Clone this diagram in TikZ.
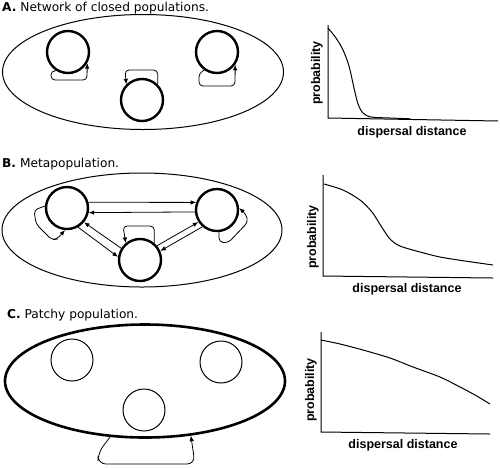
\documentclass[tikz,border=0pt]{standalone}
\usepackage{fontspec}
\setmainfont{DejaVu Sans}
\newfontfamily\axefont{Liberation Sans}
\usetikzlibrary{shapes.geometric,arrows.meta}

\begin{document}
\begin{tikzpicture}[x=1pt,y=-1pt]
    % Styles (MODIFIABLES)
    \tikzstyle{fleche}=[->,>={Latex[length=5.5pt,width=4.5pt]},line width=0.8pt]
    \tikzstyle{boucle}=[fleche,rounded corners=4pt]
    \tikzstyle{population}=[circle,draw,line width=2.4pt,minimum size=42pt,inner sep=0pt]
    \tikzstyle{parcelle}=[circle,draw,line width=1pt,minimum size=42pt,inner sep=0pt]
    \tikzstyle{milieu}=[ellipse,draw,line width=1pt,minimum width=281pt,minimum height=115pt,inner sep=0pt]
    \tikzstyle{titre}=[anchor=base west,inner sep=0pt,font=\fontsize{12.2pt}{14pt}\selectfont]
    \tikzstyle{axe}=[line width=1pt]
    \tikzstyle{courbe}=[line width=1pt]
    \tikzstyle{etiquette}=[inner sep=0pt,font=\axefont\bfseries\fontsize{12.5pt}{14pt}\selectfont]
    \useasboundingbox (0,0) rectangle (500,467);
    % A. Reseau de populations fermees
    \node[titre] (titreA) at (2,11) {\textbf{A.} Network of closed populations.};
    \node[milieu] (milieuA) at (143,72) {};
    \node[population] (popA1) at (68,52) {};
    \node[population] (popA2) at (142,100) {};
    \node[population] (popA3) at (217,52) {};
    \draw[boucle] (popA1.237) -- (51,71) |- (87,80) -- (popA1.-30);
    \draw[boucle] (popA2.45) |- (125,70) -- (popA2.135);
    \draw[boucle] (popA3.235) -- (199,73) |- (235,86) -- (popA3.-35);
    \draw[axe] (328,25) -- (328,118) -- (498,121);
    \draw[courbe] plot[smooth] coordinates {(328,28) (336,38) (343,50) (349,66) (354,88) (358,104) (363,113) (371,117) (390,118) (410,118.8)};
    \node[etiquette,rotate=90] (probaA) at (317,73) {probability};
    \node[etiquette] (distA) at (412,132) {dispersal distance};
    % B. Metapopulation
    \node[titre] (titreB) at (2,167) {\textbf{B.} Metapopulation.};
    \node[milieu,minimum width=280pt,minimum height=114pt] (milieuB) at (142,230) {};
    \node[population] (popBg) at (67,208) {};
    \node[population] (popBd) at (217,210) {};
    \node[population] (popBb) at (140,260) {};
    \draw[fleche] (popBg.15) -- (popBd.160);
    \draw[fleche] (popBd.185) -- (popBg.348);
    \draw[fleche] (popBb.148) -- (popBg.-40);
    \draw[fleche] (popBg.-60) -- (popBb.172);
    \draw[fleche] (popBb.40) -- (popBd.213);
    \draw[fleche] (popBd.229) -- (popBb.24);
    \draw[boucle] (popBg.175) -- (34,210) -- (36,224) -- (52,240) -- (57,239) -- (popBg.-95);
    \draw[boucle] (popBd.-85) -- (219,242) -- (228,243) -- (248,222) -- (246,214) -- (popBd.5);
    \draw[boucle] (popBb.50) |- (123,226) -- (popBb.130);
    \draw[axe] (323,175) -- (323,276) -- (493,278);
    \draw[courbe] plot[smooth] coordinates {(324,184) (343,190) (360,200) (372,212) (381,226) (390,239) (400,246) (420,252) (440,257) (465,261) (493,265)};
    \node[etiquette,rotate=90] (probaB) at (313,237) {probability};
    \node[etiquette] (distB) at (407,289) {dispersal distance};
    % C. Population en parcelles
    \node[titre] (titreC) at (7,318) {\textbf{C.} Patchy population.};
    \node[milieu,line width=2.6pt,minimum width=280pt,minimum height=113pt] (milieuC) at (145,381) {};
    \node[parcelle] (parcC1) at (72,360) {};
    \node[parcelle] (parcC2) at (221,362) {};
    \node[parcelle] (parcC3) at (144,410) {};
    \draw[boucle,rounded corners=8pt] (milieuC.-122) -- (98,453) |- (195,464) -- (milieuC.-50);
    \draw[axe] (321,332) -- (321,432) -- (490,434);
    \draw[courbe] plot[smooth] coordinates {(321,340) (340,344) (363,350) (390,358) (413,367) (440,377) (460,387) (475,395) (490,404)};
    \node[etiquette,rotate=90] (probaC) at (311,390) {probability};
    \node[etiquette] (distC) at (403,445) {dispersal distance};
\end{tikzpicture}
\end{document}
